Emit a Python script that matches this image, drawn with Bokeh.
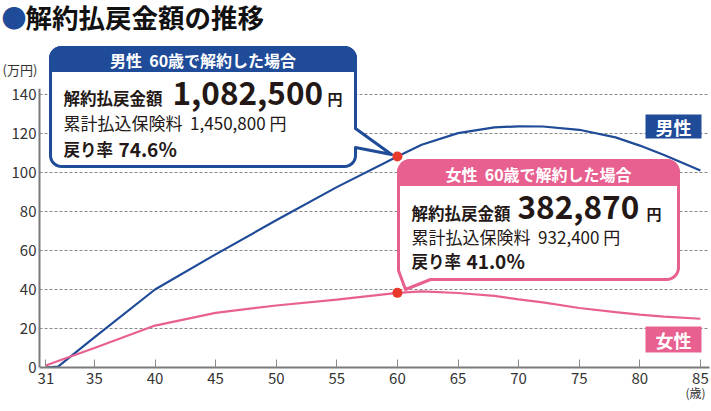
import math
from bokeh.plotting import figure
from bokeh.models import Range1d, FixedTicker, LinearAxis
from bokeh.core.properties import value
from bokeh.embed import file_html
from bokeh.resources import INLINE

# ---------------- data ----------------
ages = [31, 32, 35, 40, 45, 50, 55, 60, 62, 65, 68, 70, 72, 75, 78, 80, 82, 85]
male = [0.0, 0.5, 15.5, 40.0, 58.0, 75.5, 92.5, 108.25, 114.2, 120.2, 123.1, 123.7,
        123.6, 121.9, 118.0, 113.8, 109.0, 101.0]
female = [1.0, 3.3, 10.0, 21.5, 28.0, 31.8, 34.8, 38.287, 39.0, 38.2, 36.7, 34.9,
          33.4, 30.5, 28.4, 27.1, 26.1, 25.0]
x_ticks = [31, 35, 40, 45, 50, 55, 60, 65, 70, 75, 80, 85]
y_ticks = [0, 20, 40, 60, 80, 100, 120, 140]
focus_age = 60

title_text = "解約払戻金額の推移"
y_unit = "(万円)"
x_unit = "(歳)"
NB = "\u00a0\u00a0"
male_box = ["男性" + NB + "60歳で解約した場合", "解約払戻金額", "1,082,500", "円",
            "累計払込保険料" + NB + "1,450,800 円", "戻り率", "74.6％"]
female_box = ["女性" + NB + "60歳で解約した場合", "解約払戻金額", "382,870", "円",
              "累計払込保険料" + NB + "932,400 円", "戻り率", "41.0％"]

# ---------------- style ----------------
BLUE = "#1f4b98"
PINK = "#e8608f"
RED = "#e8392c"
INK = "#231815"
GRID = "#8a8a8a"
AXIS = "#7a7a7a"
FONT = "Noto Sans CJK JP"

W, H = 711, 411
FB = 367                       # frame bottom (x axis) in px
AX_L = 39                      # y-axis position in px
PXX, PXY = 12.12, 1.95         # px per year / px per 万円
X0 = 30.47                     # age at the y axis
XS = X0 - AX_L / PXX           # age at the canvas left edge
XE = XS + W / PXX
XA_END = X0 + (709 - AX_L) / PXX
Y1 = FB / PXY
Y_AXIS_TOP = 143


def dx(sx):
    return XS + sx / PXX


def dy(sy):
    return (FB - sy) / PXY


p = figure(width=W, height=H, output_backend="svg", toolbar_location=None,
           x_range=Range1d(XS, XE), y_range=Range1d(0, Y1))
p.min_border_left = 0
p.min_border_right = 0
p.min_border_top = 0
p.min_border_bottom = H - FB
p.outline_line_color = None
p.background_fill_color = "white"
p.border_fill_color = "white"
p.xgrid.visible = False
p.ygrid.visible = False

# x axis
xa = p.xaxis[0]
xa.ticker = FixedTicker(ticks=x_ticks)
xa.bounds = (X0, XA_END)
xa.axis_line_color = AXIS
xa.axis_line_width = 2
xa.major_tick_line_color = GRID
xa.major_tick_in = 8
xa.major_tick_out = 0
xa.minor_tick_line_color = None
xa.major_label_standoff = 5
xa.major_label_text_font = FONT
xa.major_label_text_font_size = "15px"
xa.major_label_text_color = "#333333"

# unit under the age axis
ua = LinearAxis(ticker=FixedTicker(ticks=[84.6]), major_label_overrides={84.6: x_unit})
ua.axis_line_color = None
ua.major_tick_line_color = None
ua.minor_tick_line_color = None
ua.major_tick_in = 0
ua.major_tick_out = 0
ua.major_label_standoff = -3
ua.major_label_text_font = FONT
ua.major_label_text_font_size = "12px"
ua.major_label_text_color = "#333333"
p.add_layout(ua, "below")

# y axis: labels drawn just left of the y-axis line
ya = p.yaxis[0]
ya.ticker = FixedTicker(ticks=y_ticks)
ya.axis_line_color = None
ya.major_tick_line_color = None
ya.minor_tick_line_color = None
ya.major_tick_out = 0
ya.major_tick_in = 0
ya.major_label_text_font = FONT
ya.major_label_text_font_size = "15px"
ya.major_label_text_color = "#333333"
try:
    ya.major_label_standoff = -(AX_L - 3)
    glyph_labels = False
except Exception:
    ya.visible = False
    glyph_labels = True

# grid lines and y-axis line
gy = y_ticks[1:]
p.segment(x0=[X0] * len(gy), x1=[XA_END] * len(gy), y0=gy, y1=gy,
          line_color=GRID, line_width=1, line_dash="3 2")
p.segment(x0=[X0], x1=[X0], y0=[0], y1=[Y_AXIS_TOP], line_color=AXIS, line_width=2)
if glyph_labels:
    p.text(x=[dx(AX_L - 3)] * len(y_ticks), y=y_ticks, text=[str(t) for t in y_ticks],
           text_font=value(FONT), text_font_size="15px", text_color="#333333",
           text_align="right", text_baseline="middle")

# ---------------- series ----------------
p.line(ages, male, line_color=BLUE, line_width=2.2)
p.line(ages, female, line_color=PINK, line_width=2.2)


# ---------------- callouts ----------------
def arc(cx, cy, r, a0, a1, n=8):
    out = []
    for i in range(n + 1):
        a = math.radians(a0 + (a1 - a0) * i / n)
        out.append((cx + r * math.cos(a), cy + r * math.sin(a)))
    return out


def patch_px(pts, **kw):
    p.patch([dx(a) for a, b in pts], [dy(b) for a, b in pts], **kw)


def text_px(sx, sy, txt, size, color=INK, bold=False, align="left", baseline="middle"):
    p.text(x=[dx(sx)], y=[dy(sy)], text=[txt], text_font=value(FONT),
           text_font_size=size, text_font_style="bold" if bold else "normal",
           text_color=color, text_align=align, text_baseline=baseline)


# male callout (px)
L, T, R, B, r = 50, 47, 355, 166, 11
outline = (arc(L + r, T + r, r, 180, 270) + arc(R - r, T + r, r, 270, 360) +
           [(R, 128), (391, 154), (R, 147)] +
           arc(R - r, B - r, r, 0, 90) + arc(L + r, B - r, r, 90, 180))
patch_px(outline, fill_color="white", line_color=BLUE, line_width=3, line_join="round")
head = arc(L + r, T + r, r, 180, 270) + arc(R - r, T + r, r, 270, 360) + [(R, 70), (L, 70)]
patch_px(head, fill_color=BLUE, line_color=BLUE, line_width=3, line_join="round")
text_px((L + R) / 2, 59.5, male_box[0], "16px", "white", True, "center")
text_px(63, 97, male_box[1], "16.5px", bold=True)
text_px(172, 93, male_box[2], "31.5px", bold=True)
text_px(327, 98, male_box[3], "15px", bold=True)
text_px(63, 122, male_box[4], "17px")
text_px(63, 148, male_box[5], "16.5px", bold=True)
text_px(118, 148, male_box[6], "19px", bold=True)

# female callout (px)
L, T, R, B, r = 398, 160, 678, 279, 12
outline = (arc(L + r, T + r, r, 180, 270) + arc(R - r, T + r, r, 270, 360) +
           arc(R - r, B - r, r, 0, 90) + [(430, B), (405, 289), (L, 270)])
patch_px(outline, fill_color="white", line_color=PINK, line_width=3, line_join="round")
head = arc(L + r, T + r, r, 180, 270) + arc(R - r, T + r, r, 270, 360) + [(R, 184), (L, 184)]
patch_px(head, fill_color=PINK, line_color=PINK, line_width=3, line_join="round")
text_px((L + R) / 2, 173, female_box[0], "16px", "white", True, "center")
text_px(411, 212, female_box[1], "16.5px", bold=True)
text_px(517, 207, female_box[2], "31.5px", bold=True)
text_px(646, 213, female_box[3], "15px", bold=True)
text_px(411, 236, female_box[4], "17px")
text_px(411, 260, female_box[5], "16.5px", bold=True)
text_px(466, 260, female_box[6], "19px", bold=True)

# series tags
for top, bot, col, txt in ((114, 138, BLUE, "男性"), (326, 352, PINK, "女性")):
    p.quad(left=[dx(645)], right=[dx(701)], top=[dy(top)], bottom=[dy(bot)],
           fill_color=col, line_color=None)
    text_px(673, (top + bot) / 2, txt, "18px", "white", True, "center")

# focus dots
i60 = ages.index(focus_age)
p.scatter([focus_age, focus_age], [male[i60], female[i60]], size=10,
          fill_color=RED, line_color=None)

# ---------------- title and unit ----------------
text_px(1, 16, "●", "25px", BLUE, True)
text_px(25, 16, title_text, "26.5px", "#111111", True)
text_px(2, 69, y_unit, "13px", "#333333")

open("out.html", "w").write(file_html(p, INLINE))
